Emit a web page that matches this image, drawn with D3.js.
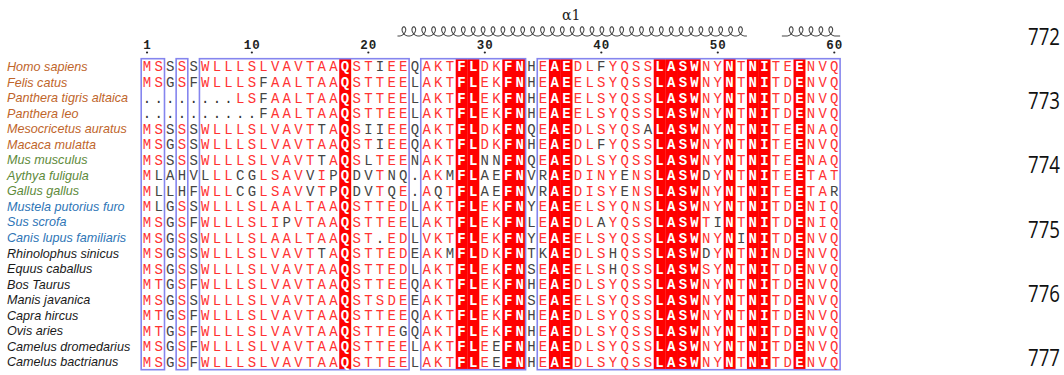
<!DOCTYPE html>
<html><head><meta charset="utf-8">
<script src="https://cdn.jsdelivr.net/npm/d3@7"></script>
<style>html,body{margin:0;padding:0;background:#fff;} svg{display:block}</style>
</head><body><svg id="c" width="1064" height="375"></svg>
<script>
// ---------- data ----------
const species = ["Homo sapiens","Felis catus","Panthera tigris altaica","Panthera leo","Mesocricetus auratus","Macaca mulatta","Mus musculus","Aythya  fuligula","Gallus gallus","Mustela putorius furo","Sus scrofa","Canis lupus familiaris","Rhinolophus sinicus","Equus caballus","Bos Taurus","Manis javanica","Capra hircus","Ovis aries","Camelus dromedarius","Camelus bactrianus"];
const speciesGroup = ["o","o","o","o","o","o","g","g","g","b","b","b","k","k","k","k","k","k","k","k"];
const sequences = [
  "MSSSSWLLLSLVAVTAAQSTIEEQAKTFLDKFNHEAEDLFYQSSLASWNYNTNITEENVQ",
  "MSGSFWLLLSFAALTAAQSTTEELAKTFLEKFNHEAEELSYQSSLASWNYNTNITDENVQ",
  "........LSFAALTAAQSTTEELAKTFLEKFNHEAEELSYQSSLASWNYNTNITDENVQ",
  "..........FAALTAAQSTTEELAKTFLEKFNHEAEELSYQSSLASWNYNTNITDENVQ",
  "MSSSSWLLLSLVAVTTAQSIIEEQAKTFLDKFNQEAEDLSYQSALASWNYNTNITEENAQ",
  "MSGSSWLLLSLVAVTAAQSTIEEQAKTFLDKFNHEAEDLFYQSSLASWNYNTNITEENVQ",
  "MSSSSWLLLSLVAVTTAQSLTEENAKTFLNNFNQEAEDLSYQSSLASWNYNTNITEENAQ",
  "MLAHVLLLCGLSAVVIPQDVTNQ.AKMFLAEFNVRAEDINYENSLASWDYNTNITEETAT",
  "MLLHFWLLCGLSAVVTPQDVTQE.AQTFLAEFNVRAEDISYENSLASWNYNTNITEETAR",
  "MLGSSWLLLSLAALTAAQSTTEDLAKTFLEKFNYEAEELSYQNSLASWNYNTNITDENIQ",
  "MSGSFWLLLSLIPVTAAQSTTEELAKTFLEKFNLEAEDLAYQSSLASWTINTNITDENIQ",
  "MSGSSWLLLSLAALTAAQST.EDLVKTFLEKFNYEAEELSYQSSLASWNYNINITDENVQ",
  "MSGSSWLLLSLVAVTTAQSTTEDEAKMFLDKFNTKAEDLSHQSSLASWDYNTNINDENVQ",
  "MSGSSWLLLSLVAVTAAQSTTEDLAKTFLEKFNSEAEELSHQSSLASWSYNTNITDENVQ",
  "MTGSFWLLLSLVAVTAAQSTTEEQAKTFLEKFNHEAEDLSYQSSLASWNYNTNITDENVQ",
  "MSGSSWLLLSLVAVTAAQSTSDEEAKTFLEKFNSEAEELSYQSSLASWNYNTNITDENVQ",
  "MTGSFWLLLSLVAVTAAQSTTEEQAKTFLEKFNHEAEDLSYQSSLASWNYNTNITDENVQ",
  "MTGSFWLLLSLVAVTAAQSTTEGQAKTFLEKFNHEAEDLSYQSSLASWNYNTNITDENVQ",
  "MSGSFWLLLSLVAVTAAQSTTEELAKTFLEEFNHEAEDLSYQSSLASWNYNTNITDENVQ",
  "MSGSFWLLLSLVAVTAAQSTTEELAKTFLEEFNHEAEDLSYQSSLASWNYNTNITDENVQ"
];
// residues inside similarity boxes that are NOT similar (drawn dark)
const blackCols = [
  [21,40],[11],[11],[11],[16,20,21,44],[21,40],[16,20,30,31],
  [2,4,6,9,10,15,17,19,20,22,23,27,30,31,35,42,49],
  [2,4,9,10,15,17,19,20,22,26,30,31,35,42,60],
  [2],[13,40,50],[52],[16,27,35,41,49],[41],[],[],[],[23],[31],[31]
];
const identCols = [18,28,29,32,33,36,37,45,46,47,48,51,53,54,57];
const boxes = [[1,2],[4,4],[6,23],[25,33],[35,60]];
const rulerTicks = [1,10,20,30,40,50,60];
const helices = [{label:"\u03b11", start:23, end:52},{label:"", start:56, end:60}];
const sideNumbers = ["772","773","774","775","776","777"];

// ---------- drawing ----------
const svg = d3.select("#c");
svg.append("rect").attr("width",1064).attr("height",375).attr("fill","#fff");
const cols = d3.range(1,61);
const x = d3.scaleBand().domain(cols).range([141.2,840.1]);
const y = d3.scaleBand().domain(d3.range(species.length)).range([58.7,369.7]);
const cx = c => x(c) + x.bandwidth()/2;
const cy = r => y(r) + y.bandwidth()/2;
const groupColor = {o:"#C0652A", g:"#5E8A3A", b:"#2E75B6", k:"#1a1a1a"};
const inBox = c => boxes.some(b => c>=b[0] && c<=b[1]);

// identical columns (red background)
svg.append("g").selectAll("rect").data(identCols).join("rect")
  .attr("x", c => x(c)).attr("y", y.range()[0])
  .attr("width", x.bandwidth()+0.3).attr("height", y.range()[1]-y.range()[0])
  .attr("fill","#ff0000");

// boxes
svg.append("g").selectAll("rect").data(boxes).join("rect")
  .attr("x", b => x(b[0])).attr("y", y.range()[0])
  .attr("width", b => x(b[1]) + x.bandwidth() - x(b[0]))
  .attr("height", y.range()[1]-y.range()[0])
  .attr("fill","none").attr("stroke","#8585ee").attr("stroke-width",1.6);

// residues
const cells = [];
sequences.forEach((s,r) => cols.forEach(c => cells.push({r, c, ch: s[c-1]})));
svg.append("g").attr("font-family","'Liberation Mono', monospace").attr("font-size",14)
  .attr("text-anchor","middle")
  .selectAll("text").data(cells).join("text")
  .attr("x", d => cx(d.c)).attr("y", d => cy(d.r) + 5)
  .attr("font-weight", d => identCols.includes(d.c) ? "bold" : "normal")
  .attr("fill", d => {
    if (identCols.includes(d.c)) return "#fff";
    if (d.ch === ".") return "#333";
    if (inBox(d.c) && !blackCols[d.r].includes(d.c)) return "#ff3333";
    return "#444";
  })
  .text(d => d.ch);

// species labels
svg.append("g").attr("font-family","'Liberation Sans', Arial, sans-serif")
  .attr("font-style","italic").attr("font-size",12.6)
  .selectAll("text").data(species).join("text")
  .attr("x",7).attr("y",(d,i) => cy(i)+4.5)
  .attr("fill",(d,i) => groupColor[speciesGroup[i]])
  .text(d => d);

// ruler
const ruler = svg.append("g");
ruler.selectAll("text").data(rulerTicks).join("text")
  .attr("x", c => cx(c)+0.5).attr("y", 48.5)
  .attr("text-anchor","middle").attr("font-family","'Liberation Mono', monospace")
  .attr("font-weight","bold").attr("font-size",12.5).attr("fill","#222")
  .attr("letter-spacing",1)
  .text(d => d);
ruler.selectAll("circle").data(rulerTicks).join("circle")
  .attr("cx", c => cx(c)).attr("cy", 52.5).attr("r", 1.1).attr("fill","#222");

// helices
function helixPath(x0, x1, yb) {
  const spacing = 9.9, a = spacing/(2*Math.PI), b = 4.0, c = 4.6;
  const n = Math.max(1, Math.round((x1-x0-6)/spacing));
  const sx = x0 + ((x1-x0) - n*spacing)/2;
  const pts = [[x0, yb]];
  const N = n*40;
  for (let i=0;i<=N;i++){
    const t = 2*Math.PI*n*i/N;
    pts.push([sx + a*t + b*Math.sin(t), yb - c + c*Math.cos(t)]);
  }
  pts.push([x1, yb]);
  return d3.line()(pts);
}
const hg = svg.append("g");
hg.selectAll("path").data(helices).join("path")
  .attr("d", h => helixPath(x(h.start), x(h.end)+x.bandwidth(), 36))
  .attr("fill","none").attr("stroke","#444").attr("stroke-width",1.1);
hg.selectAll("text").data(helices).join("text")
  .attr("x", h => (x(h.start)+x(h.end)+x.bandwidth())/2 - 1).attr("y", 20)
  .attr("text-anchor","middle").attr("font-family","'DejaVu Serif', 'Liberation Serif', serif")
  .attr("font-size",14).attr("fill","#222").text(h => h.label);

// side numbers
const sy = d3.scalePoint().domain(sideNumbers).range([36,357]);
svg.append("g").selectAll("text").data(sideNumbers).join("text")
  .attr("x",1028).attr("y", d => sy(d)+9)
  .attr("font-family","'Open Sans', sans-serif").attr("font-size",24)
  .attr("textLength",32).attr("lengthAdjust","spacingAndGlyphs")
  .attr("fill","#111").text(d => d);
</script></body></html>
